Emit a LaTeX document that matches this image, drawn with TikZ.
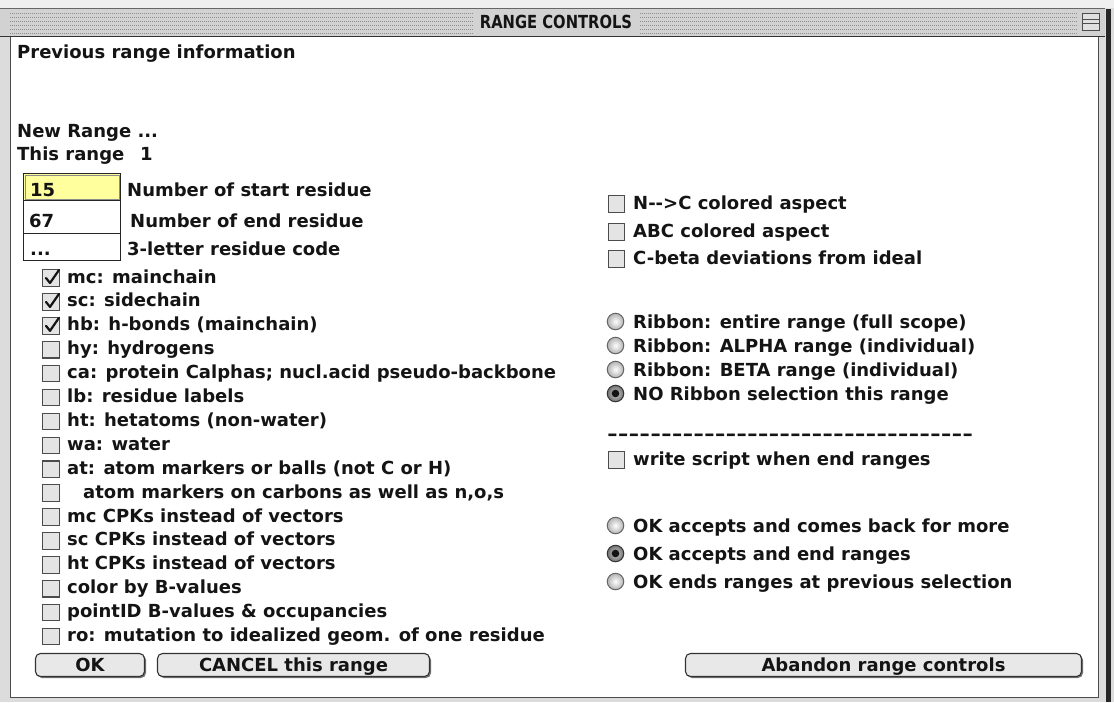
\documentclass[tikz,border=0pt]{standalone}
\usepackage{fontspec}
\setmainfont{DejaVu Sans}
\usetikzlibrary{shadows}
\definecolor{framegrey}{HTML}{DCDCDC}
\definecolor{topstrip}{HTML}{EFEFEF}
\definecolor{titlebg}{HTML}{D2D2D2}
\definecolor{stripe}{HTML}{8E8E8E}
\definecolor{fieldyellow}{HTML}{FFFF9E}
\definecolor{boxfill}{HTML}{E4E4E4}
\definecolor{btnfill}{HTML}{E8E8E8}
\definecolor{ink}{HTML}{141414}
\begin{document}
\begin{tikzpicture}[x=1pt,y=-1pt,
  lbl/.style={anchor=base west, inner sep=0pt, text=ink, font=\bfseries\fontsize{18}{20}\selectfont},
  cbox/.style={draw=black!70, fill=boxfill, line width=1.1pt, minimum size=16.5pt, inner sep=0pt},
  tick/.style={draw=ink, line width=2.2pt, line cap=round, line join=round},
  radio/.style={circle, minimum size=16.5pt, inner sep=0pt, draw=black!60, line width=1pt, inner color=white, outer color=black!30},
  radiosel/.style={circle, minimum size=16.5pt, inner sep=0pt, draw=black!80, line width=1pt, inner color=black!20, outer color=black!55},
  field/.style={draw=black!85, line width=1.2pt, fill=white, anchor=north west, minimum width=97pt, inner sep=0pt},
  btn/.style={draw=black!80, line width=1.1pt, fill=btnfill, rounded corners=5pt, minimum height=23pt, inner sep=0pt,
    text height=13.1pt, text depth=0pt, text=ink, font=\bfseries\fontsize{18}{20}\selectfont,
    drop shadow={shadow xshift=1.5pt, shadow yshift=-1.5pt, opacity=1, fill=black!55}},
  stripeline/.style={draw=stripe, line width=1pt, dash pattern=on 1pt off 1pt}]
\useasboundingbox (0,0) rectangle (1114,702);
% window frame and title bar
\fill[framegrey] (0,0) rectangle (1114,702);
\fill[topstrip] (0,0) rectangle (1114,8);
\fill[titlebg] (0,9) rectangle (1105,36);
\foreach \yy in {13,17,...,33} \draw[stripeline] (10,\yy) -- (1077,\yy);
\draw[black!60] (0,8.5) -- (1105,8.5);
\draw[black!80, line width=1.2pt] (0,36.5) -- (1105,36.5);
\node[fill=titlebg, minimum width=165pt, minimum height=24pt, inner sep=0pt, text=ink,
  font=\bfseries\fontsize{18}{20}\selectfont] (title) at (556,22) {\scalebox{0.82}[1]{RANGE CONTROLS}};
\node[draw=black!70, fill=black!12, line width=1pt, minimum width=17pt, minimum height=17pt, inner sep=0pt] (shade) at (1091,21.5) {};
\draw[black!70, line width=1pt] ([yshift=2pt]shade.west) -- ([yshift=2pt]shade.east);
\draw[black!70, line width=1pt] ([yshift=-2pt]shade.west) -- ([yshift=-2pt]shade.east);
\fill[white] (11,37) rectangle (1098,697);
\draw[black!70, line width=1pt] (10.5,37) -- (10.5,697.5) -- (1098.5,697.5) -- (1098.5,37);
\fill[black!85] (1106,9) rectangle (1111,702);

% header texts
\node[lbl] (prev) at (17,58) {Previous range information};
\node[lbl] (newr) at (17,137) {New Range ...};
\node[lbl] (thisr) at (17,160) {This range};
\node[lbl] (one) at (140,160) {1};

% text fields
\node[field, fill=fieldyellow, minimum height=27pt] (f1) at (23,173) {};
\draw[black!45, line width=0.8pt] ([xshift=2pt,yshift=-2pt]f1.north west) rectangle ([xshift=-2pt,yshift=2pt]f1.south east);
\node[field, minimum height=33pt] (f2) at (23,200) {};
\node[field, minimum height=27pt] (f3) at (23,233) {};
\node[lbl] (v1) at (30,196) {15};
\node[lbl] (v2) at (29,227) {67};
\node[lbl] (v3) at (30,255) {...};
\node[lbl] (l1) at (127,196) {Number of start residue};
\node[lbl] (l2) at (130,227) {Number of end residue};
\node[lbl] (l3) at (127,255) {3-letter residue code};

% left check list
\foreach \i/\t/\xx in {
  1/{mc: mainchain}/67,
  2/{sc: sidechain}/67,
  3/{hb: h-bonds (mainchain)}/67,
  4/{hy: hydrogens}/67,
  5/{ca: protein Calphas; nucl.acid pseudo-backbone}/67,
  6/{lb: residue labels}/67,
  7/{ht: hetatoms (non-water)}/67,
  8/{wa: water}/67,
  9/{at: atom markers or balls (not C or H)}/67,
  10/{atom markers on carbons as well as n,o,s}/83,
  11/{mc CPKs instead of vectors}/67,
  12/{sc CPKs instead of vectors}/67,
  13/{ht CPKs instead of vectors}/67,
  14/{color by B-values}/67,
  15/{pointID B-values \& occupancies}/67,
  16/{ro: mutation to idealized geom. of one residue}/67} {
  \pgfmathsetmacro\yb{283+23.9*(\i-1)}
  \node[cbox] (cb\i) at (51,\yb-5) {};
  \node[lbl] (ct\i) at (\xx,\yb) {\t};
}
\foreach \i in {1,2,3} \draw[tick] (cb\i.center) ++(-5,0) -- ++(4,5) -- ++(9,-13);

% right check boxes
\foreach \i/\t/\yb in {
  1/{N-\kern0pt-\kern0pt>C colored aspect}/209,
  2/{ABC colored aspect}/237,
  3/{C-beta deviations from ideal}/264,
  4/{write script when end ranges}/465} {
  \node[cbox] (rb\i) at (616.5,\yb-5) {};
  \node[lbl] (rt\i) at (633,\yb) {\t};
}

% ribbon radios
\foreach \i/\t/\yb/\st in {
  1/{Ribbon: entire range (full scope)}/328/radio,
  2/{Ribbon: ALPHA range (individual)}/352/radio,
  3/{Ribbon: BETA range (individual)}/376/radio,
  4/{NO Ribbon selection this range}/400/radiosel,
  5/{OK accepts and comes back for more}/532/radio,
  6/{OK accepts and end ranges}/560/radiosel,
  7/{OK ends ranges at previous selection}/588/radio} {
  \node[\st] (ra\i) at (615.5,\yb-6.5) {};
  \node[lbl] (rat\i) at (633,\yb) {\t};
}
\fill[ink] (ra4.center) circle (3.8pt);
\fill[ink] (ra6.center) circle (3.8pt);

% dashed separator (text)
\node[lbl] (dashes) at (607,440) {\resizebox{366pt}{\height}{\foreach \k in {1,...,34}{-\kern0pt}}};

% buttons
\node[btn, minimum width=109pt] (ok) at (90,665) {OK};
\node[btn, minimum width=272pt] (cancel) at (293.5,665) {CANCEL this range};
\node[btn, minimum width=396pt] (abandon) at (883.5,665) {Abandon range controls};
\end{tikzpicture}
\end{document}
